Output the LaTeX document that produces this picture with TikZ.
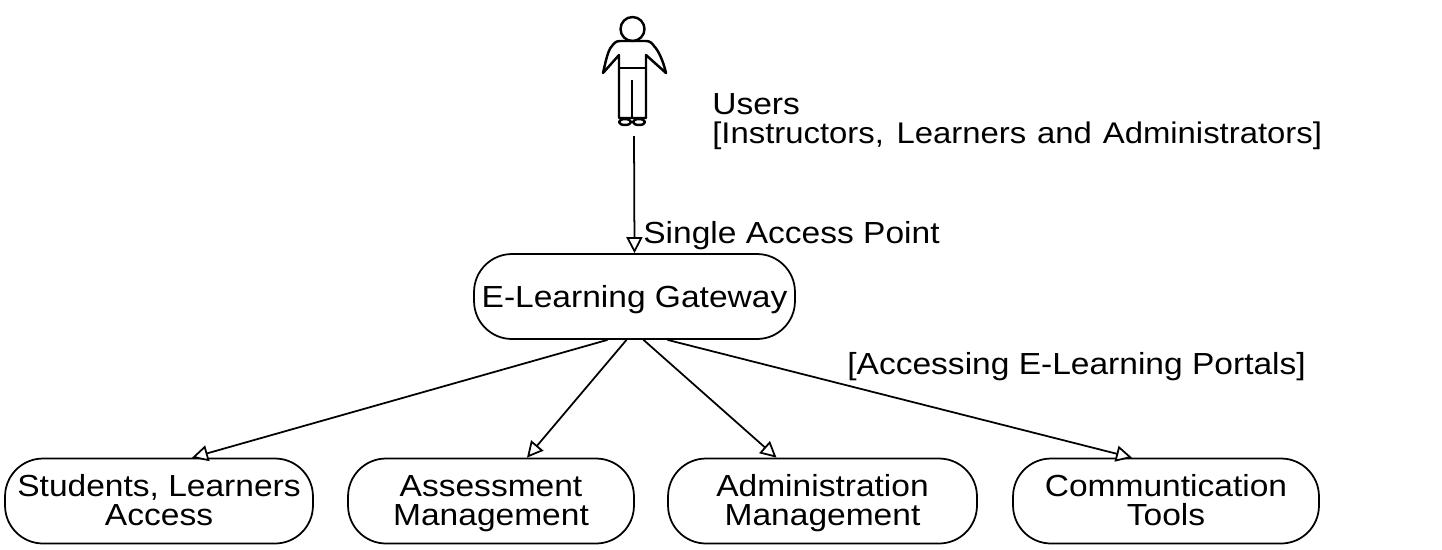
\documentclass[tikz,border=0pt]{standalone}
\usepackage{fontspec}
\setmainfont[FakeStretch=1.1]{Liberation Sans}
\usetikzlibrary{arrows.meta,calc}
\tikzset{
  place/.style={draw,rounded corners=0.76cm,line width=1pt,align=center,inner sep=0pt,minimum height=1.7cm,
    text height=0.988cm,text depth=0pt,font=\fontsize{17.35}{16.7}\selectfont},
  note/.style={anchor=west,inner sep=0pt,font=\fontsize{17.35}{16.7}\selectfont},
  link/.style={draw,line width=1pt,-{Triangle[open,fill=white,length=0.32cm,width=0.32cm]}},
  figure/.style={line width=1.4pt,line join=round}
}
\begin{document}
\begin{tikzpicture}[x=0.02cm,y=-0.02cm]
  \useasboundingbox (0,0) rectangle (1442,549);

  % the user
  \draw[figure] (632.5,29) circle (12);
  \draw[figure] (603,73) .. controls (606,60) and (608,50) .. (612,46) .. controls (614,43) and (616,41) .. (620,41) -- (646,41) .. controls (650,41) and (652,43) .. (654,46) .. controls (658,50) and (663,60) .. (666,73) -- (646,55) -- (646,118) -- (619,118) -- (619,55) -- cycle;
  \draw[figure] (619,68) -- (646,68);
  \draw[figure] (632,80) -- (632,118);
  \draw[figure] (625,122) ellipse (6 and 3);
  \draw[figure] (639,122) ellipse (6 and 3);
  \coordinate (user) at (634,136);

  \node[note] (users) at (712,104) {Users};
  \node[note,font=\fontsize{17}{16.7}\selectfont] (roles) at (712,136) {[Instructors,\hspace{2pt} Learners\hspace{1pt} and\hspace{1pt} Administrators]};
  \node[note] (single) at (643,236) {Single Access Point};
  \node[note] (portals) at (847,367) {[Accessing E-Learning Portals]};

  \node[place,minimum width=6.42cm,text height=0.44cm] (gateway) at (634.5,296.5) {E-Learning Gateway};
  \node[place,minimum width=6.16cm] (students) at (159,501) {Students, Learners\\Access};
  \node[place,minimum width=5.72cm] (assessment) at (491,501) {Assessment\\Management};
  \node[place,minimum width=6.18cm] (admin) at (822.5,501) {Administration\\Management};
  \node[place,minimum width=6.12cm] (tools) at (1166,501) {Communtication\\Tools};

  \draw[link] (user) -- (gateway.north);
  \draw[link] ($(gateway.south)+(-27,0)$) -- ($(students.north)+(33,0)$);
  \draw[link] ($(gateway.south)+(-8,0)$) -- ($(assessment.north)+(36,0)$);
  \draw[link] ($(gateway.south)+(9,0)$) -- ($(admin.north)+(-46,0)$);
  \draw[link] ($(gateway.south)+(33,0)$) -- ($(tools.north)+(-34,0)$);
\end{tikzpicture}
\end{document}
